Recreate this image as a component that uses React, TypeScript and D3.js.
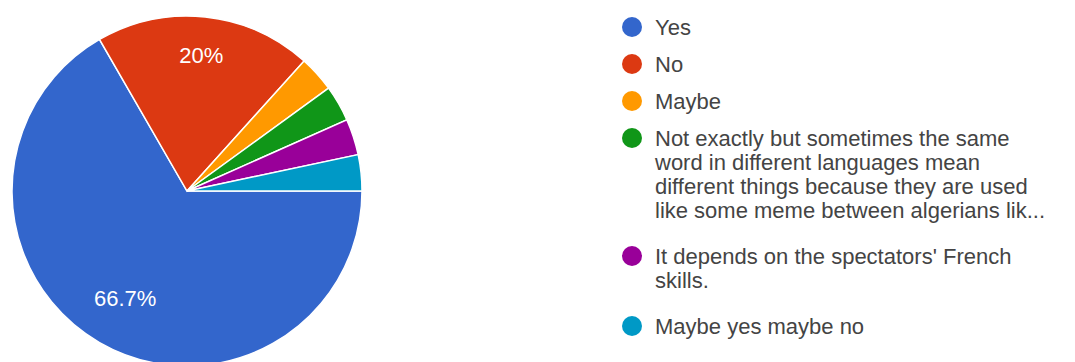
import React from "react";
import * as d3 from "d3";

const categories = [
  "Yes",
  "No",
  "Maybe",
  "Not exactly but sometimes the same word in different languages mean different things because they are used like some meme between algerians lik...",
  "It depends on the spectators' French skills.",
  "Maybe yes maybe no",
];
const legendLines = [
  ["Yes"],
  ["No"],
  ["Maybe"],
  [
    "Not exactly but sometimes the same",
    "word in different languages mean",
    "different things because they are used",
    "like some meme between algerians lik...",
  ],
  ["It depends on the spectators' French", "skills."],
  ["Maybe yes maybe no"],
];
const values = [20, 6, 1, 1, 1, 1];
const colors = ["#3366cc", "#dc3912", "#ff9900", "#109618", "#990099", "#0099c6"];

const W = 1075;
const H = 362;
const CX = 187;
const CY = 191;
const R = 175;
const FONT = "'Liberation Sans', Arial, sans-serif";
const LABEL_FS = 22;

function measure(text: string, fs: number): number {
  try {
    const c = document.createElement("canvas").getContext("2d");
    if (c) {
      c.font = `${fs}px 'Liberation Sans', Arial, sans-serif`;
      return c.measureText(text).width;
    }
  } catch (e) {}
  return text.length * fs * 0.6;
}

export default function App() {
  const total = d3.sum(values);
  const pie = d3
    .pie<number>()
    .sort(null)
    .value((d) => d)
    .startAngle(Math.PI / 2)
    .endAngle(Math.PI / 2 + 2 * Math.PI);
  const arcs = pie(values);
  const arcGen = d3.arc<d3.PieArcDatum<number>>().innerRadius(0).outerRadius(R);

  // place label box so its outer corner sits at a fixed distance from centre
  const D = R * 0.846;
  const capH = LABEL_FS * 0.716;
  const labelPos = (a: d3.PieArcDatum<number>, w: number) => {
    const th = (a.startAngle + a.endAngle) / 2;
    const ux = Math.sin(th);
    const uy = -Math.cos(th);
    let lo = 0;
    let hi = R;
    for (let k = 0; k < 40; k++) {
      const r = (lo + hi) / 2;
      const px = r * ux + Math.sign(ux) * (w / 2);
      const py = r * uy + Math.sign(uy) * (capH / 2);
      if (Math.hypot(px, py) > D) hi = r;
      else lo = r;
    }
    return [lo * ux, lo * uy];
  };

  // legend layout
  const legendX = 632;
  const textX = 655;
  const lineH = 24;
  const itemGap = 37;
  const multiExtra = 9;
  let y = 27;
  const legendItems = legendLines.map((lines, i) => {
    const item = { cy: y, lines, color: colors[i], key: categories[i] };
    y += itemGap + (lines.length - 1) * lineH + (lines.length > 1 ? multiExtra : 0);
    return item;
  });

  return (
    <svg
      width={W}
      height={H}
      style={{ position: "absolute", left: 0, top: 0, background: "#fff" }}
    >
      <g transform={`translate(${CX},${CY})`}>
        {arcs.map((a, i) => (
          <path key={i} d={arcGen(a) || ""} fill={colors[i]} stroke="#fff" strokeWidth={1.5} />
        ))}
        {arcs.map((a, i) => {
          const pct = (a.data / total) * 100;
          if (pct < 5) return null;
          const txt = Math.round(pct * 10) / 10 + "%";
          const w = measure(txt, LABEL_FS);
          const [lx, ly] = labelPos(a, w);
          return (
            <text
              key={"l" + i}
              x={lx}
              y={ly + capH / 2}
              textAnchor="middle"
              fill="#fff"
              fontFamily={FONT}
              fontSize={LABEL_FS}
            >
              {txt}
            </text>
          );
        })}
      </g>
      {legendItems.map((it) => (
        <g key={it.key}>
          <circle cx={legendX} cy={it.cy} r={10} fill={it.color} />
          {it.lines.map((ln, j) => (
            <text
              key={j}
              x={textX}
              y={it.cy + 8 + j * lineH}
              fill="#444"
              fontFamily={FONT}
              fontSize={22}
            >
              {ln}
            </text>
          ))}
        </g>
      ))}
    </svg>
  );
}
